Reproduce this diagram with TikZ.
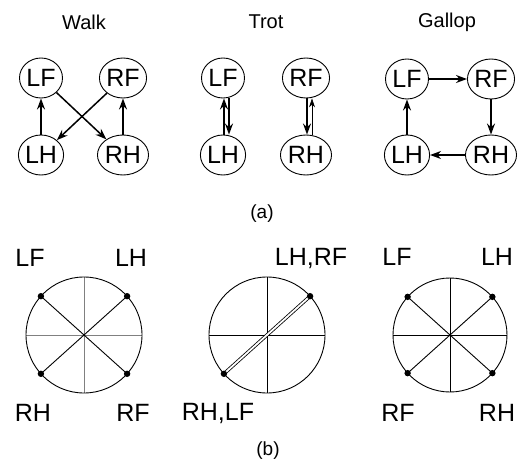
\documentclass[tikz,border=0pt]{standalone}
\usepackage{fontspec}
\setmainfont{Liberation Sans}
\usetikzlibrary{arrows.meta,shapes.geometric,calc}
\begin{document}
\begin{tikzpicture}[x=1pt,y=-1pt,
  leg/.style={draw,ellipse,minimum width=43pt,minimum height=40pt,inner sep=0pt,line width=0.9pt,font=\fontsize{25}{25}\selectfont},
  ttl/.style={font=\fontsize{20}{20}\selectfont},
  lbl/.style={font=\fontsize{25}{25}\selectfont},
  capt/.style={font=\fontsize{19}{19}\selectfont},
  arr/.style={line width=1.5pt,-{Stealth[length=11pt,width=8pt]}},
  thinarr/.style={line width=0.7pt,-{Stealth[length=9pt,width=6pt]}},
  ring/.style={line width=0.9pt},
  spoke/.style={line width=0.9pt},
  axis/.style={line width=0.9pt},
  dot/.style={fill=black}
]
\useasboundingbox (0,0) rectangle (525,463);
% ---------- (a) Walk ----------
\node[ttl] (tw) at (84,22) {Walk};
\node[leg] (wLF) at (41,78) {LF};
\node[leg] (wRF) at (123,78) {RF};
\node[leg] (wLH) at (41,155) {LH};
\node[leg] (wRH) at (123,155) {RH};
\draw[arr] (wLH) -- (wLF);
\draw[arr] (wRH) -- (wRF);
\draw[arr] (wLF) -- (wRH);
\draw[arr] (wRF) -- (wLH);
% ---------- (a) Trot ----------
\node[ttl] (tt) at (266,22) {Trot};
\node[leg] (tLF) at (223,78) {LF};
\node[leg] (tRF) at (306,78) {RF};
\node[leg] (tLH) at (223,155) {LH};
\node[leg] (tRH) at (306,155) {RH};
\draw[arr] ([xshift=1pt]tLH.north) -- ([xshift=1pt]tLF.south);
\draw[arr] ([xshift=6pt]tLF.south) -- ([xshift=6pt]tLH.north);
\draw[arr] ([xshift=1pt]tRF.south) -- ([xshift=1pt]tRH.north);
\draw[thinarr] ([xshift=6pt]tRH.north) -- ([xshift=6pt]tRF.south);
% ---------- (a) Gallop ----------
\node[ttl] (tg) at (447,22) {Gallop};
\node[leg] (gLF) at (407,79) {LF};
\node[leg] (gRF) at (491,79) {RF};
\node[leg] (gLH) at (407,155) {LH};
\node[leg] (gRH) at (491,155) {RH};
\draw[arr] (gLF) -- (gRF);
\draw[arr] (gRF) -- (gRH);
\draw[arr] (gRH) -- (gLH);
\draw[arr] (gLH) -- (gLF);
\node[capt] (capa) at (262,214) {(a)};
% ---------- (b) panel 1 ----------
\coordinate (c1) at (84,335);
\draw[axis,gray] (c1) +(-58,0) -- +(58,0);
\draw[axis,gray] (c1) +(0,-58) -- +(0,58);
\draw[ring] (c1) circle[radius=58];
\coordinate (c1ur) at ($(c1)+(-42:58)$);
\coordinate (c1ul) at ($(c1)+(-138:58)$);
\coordinate (c1dl) at ($(c1)+(138:58)$);
\coordinate (c1dr) at ($(c1)+(42:58)$);
\draw[spoke] (c1ul) -- (c1dr);
\draw[spoke] (c1ur) -- (c1dl);
\foreach \p in {c1ur,c1ul,c1dl,c1dr} \fill[dot] (\p) circle[radius=3.2];
\node[lbl] (l1a) at (30,258) {LF};
\node[lbl] (l1b) at (131,258) {LH};
\node[lbl] (l1c) at (33,413) {RH};
\node[lbl] (l1d) at (133,413) {RF};
% ---------- (b) panel 2 ----------
\coordinate (c2) at (267,335);
\draw[axis] (c2) +(-58,0) -- +(58,0);
\draw[axis] (c2) +(0,-58) -- +(0,58);
\draw[ring] (c2) circle[radius=58];
\coordinate (c2ur) at ($(c2)+(-42:58)$);
\coordinate (c2dl) at ($(c2)+(138:58)$);
\draw[line width=0.8pt,double=white,double distance=1.8pt] (c2dl) -- (c2ur);
\foreach \p in {c2ur,c2dl} \fill[dot] (\p) circle[radius=3.2];
\node[lbl] (l2a) at (311,258) {LH,RF};
\node[lbl] (l2b) at (218,413) {RH,LF};
\node[capt] (capb) at (268,451) {(b)};
% ---------- (b) panel 3 ----------
\coordinate (c3) at (450,335);
\draw[axis] (c3) +(-57,0) -- +(57,0);
\draw[axis] (c3) +(0,-57) -- +(0,57);
\draw[ring] (c3) circle[radius=57];
\coordinate (c3ur) at ($(c3)+(-42:57)$);
\coordinate (c3ul) at ($(c3)+(-138:57)$);
\coordinate (c3dl) at ($(c3)+(138:57)$);
\coordinate (c3dr) at ($(c3)+(42:57)$);
\draw[spoke] (c3ul) -- (c3dr);
\draw[spoke] (c3ur) -- (c3dl);
\foreach \p in {c3ur,c3ul,c3dl,c3dr} \fill[dot] (\p) circle[radius=3.2];
\node[lbl] (l3a) at (397,257) {LF};
\node[lbl] (l3b) at (497,257) {LH};
\node[lbl] (l3c) at (398,413) {RF};
\node[lbl] (l3d) at (497,413) {RH};
\end{tikzpicture}
\end{document}
